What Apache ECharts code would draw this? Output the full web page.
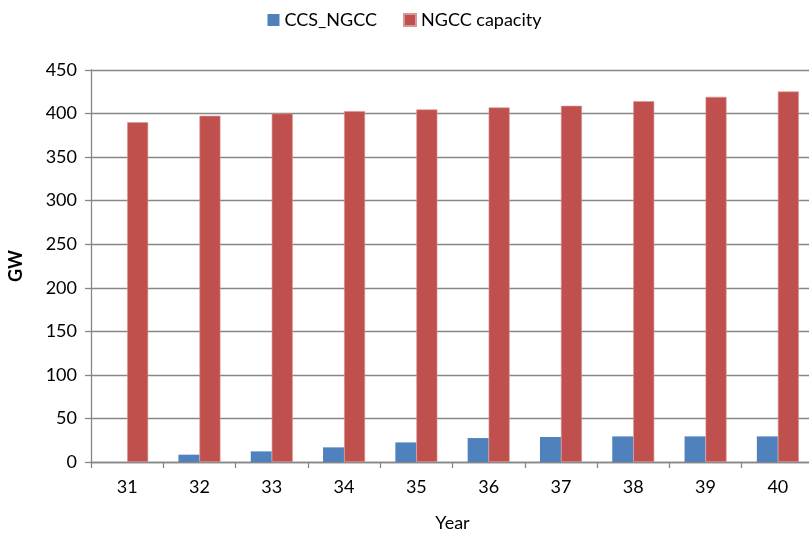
<!DOCTYPE html>
<html>
<head>
<meta charset="utf-8">
<script src="https://cdn.jsdelivr.net/npm/echarts@6/dist/echarts.min.js"></script>
<style>
  html, body { margin: 0; padding: 0; background: #fff; }
  #chart { width: 809px; height: 535px; }
</style>
</head>
<body>
<div id="chart"></div>
<script>
// Year index and installed capacity (GW)
const years = ['31', '32', '33', '34', '35', '36', '37', '38', '39', '40'];
const ccsNgcc = [0, 8.4, 12.2, 16.8, 22.5, 27.5, 28.7, 29.4, 29.4, 29.4];
const ngccCapacity = [390, 397.4, 400, 402.8, 404.7, 407, 408.9, 414.2, 419.2, 425.3];
const yTicks = { min: 0, max: 450, interval: 50 };

const font = 'Lato, "Open Sans", sans-serif';
const gridColor = '#868686';

const chart = echarts.init(document.getElementById('chart'));
chart.setOption({
  animation: false,
  textStyle: { fontFamily: font },
  legend: {
    top: 6,
    left: 'center',
    itemWidth: 12,
    itemHeight: 12,
    itemGap: 26,
    icon: 'rect',
    textStyle: { fontSize: 18, color: '#000', fontFamily: font },
    data: ['CCS_NGCC', 'NGCC capacity']
  },
  grid: { left: 91, right: -5, top: 70, bottom: 73, containLabel: false, outerBoundsMode: 'none' },
  xAxis: {
    type: 'category',
    data: years,
    name: 'Year',
    nameLocation: 'middle',
    nameGap: 52,
    nameTextStyle: { fontSize: 18, color: '#000', fontFamily: font },
    axisLine: { lineStyle: { color: gridColor, width: 1.3 } },
    axisTick: { show: true, length: 6, lineStyle: { color: gridColor, width: 1.3 } },
    axisLabel: { fontSize: 18, color: '#000', margin: 16, fontFamily: font }
  },
  yAxis: {
    type: 'value',
    min: yTicks.min,
    max: yTicks.max,
    interval: yTicks.interval,
    name: 'GW',
    nameLocation: 'middle',
    nameGap: 66,
    nameTextStyle: { fontSize: 18, fontWeight: 'bold', color: '#000', fontFamily: font },
    axisLine: { show: true, lineStyle: { color: gridColor, width: 1.3 } },
    axisTick: { show: true, length: 6, lineStyle: { color: gridColor, width: 1.3 } },
    axisLabel: { fontSize: 18, color: '#000', margin: 14, fontFamily: font },
    splitLine: { lineStyle: { color: gridColor, width: 1.3 } }
  },
  series: [
    {
      name: 'CCS_NGCC',
      type: 'bar',
      data: ccsNgcc,
      barWidth: 21,
      barGap: '0%',
      itemStyle: { color: '#4F81BD' }
    },
    {
      name: 'NGCC capacity',
      type: 'bar',
      data: ngccCapacity,
      barWidth: 21,
      barGap: '0%',
      itemStyle: { color: '#C0504D', borderColor: '#D99795', borderWidth: 0.6 }
    }
  ]
});
</script>
</body>
</html>
